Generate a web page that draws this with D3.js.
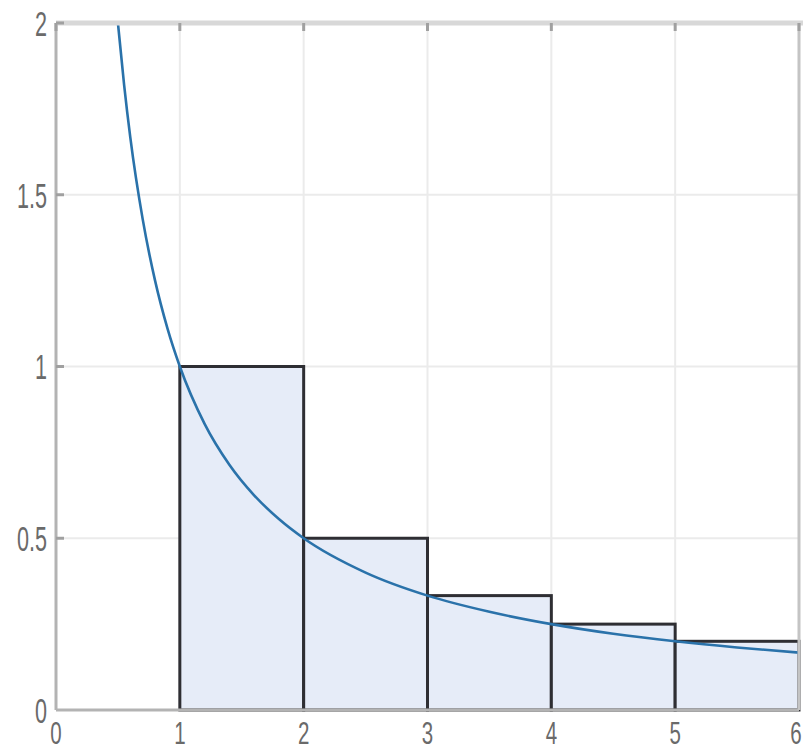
<!DOCTYPE html>
<html><head><meta charset="utf-8">
<script src="https://cdn.jsdelivr.net/npm/d3@7"></script>
<style>body{margin:0;background:#fff}svg text{font-family:"Liberation Sans",Arial,sans-serif}</style>
</head><body><svg id="c" width="803" height="752"></svg>
<script>
const barStarts = [1, 2, 3, 4, 5];
const barHeights = [1, 0.5, 0.333, 0.25, 0.2];
const curveX = [0.5, 0.55, 0.6, 0.7, 0.8, 0.9, 1, 1.2, 1.4, 1.6, 1.8, 2, 2.5, 3, 3.5, 4, 4.5, 5, 5.5, 6];
const curveY = [2, 1.82, 1.667, 1.429, 1.25, 1.111, 1, 0.833, 0.714, 0.625, 0.556, 0.5, 0.4, 0.333, 0.286, 0.25, 0.222, 0.2, 0.182, 0.167];
const xTicks = [0, 1, 2, 3, 4, 5, 6];
const xTickLabels = ["0", "1", "2", "3", "4", "5", "6"];
const yTicks = [0, 0.5, 1, 1.5, 2];
const yTickLabels = ["0", "0.5", "1", "1.5", "2"];

const svg = d3.select("#c");
const L = 56, R = 799, T = 23, B = 710;
const x = d3.scaleLinear().domain([0, 6]).range([L, R]);
const y = d3.scaleLinear().domain([0, 2]).range([B, T]);

// grid
svg.append("g").selectAll("line").data(xTicks.slice(1, -1)).join("line")
  .attr("x1", d => x(d)).attr("x2", d => x(d)).attr("y1", T).attr("y2", B)
  .attr("stroke", "#ebebeb").attr("stroke-width", 2);
svg.append("g").selectAll("line").data(yTicks.slice(1, -1)).join("line")
  .attr("x1", L).attr("x2", R).attr("y1", d => y(d)).attr("y2", d => y(d))
  .attr("stroke", "#ebebeb").attr("stroke-width", 2);

// bars
svg.append("g").selectAll("rect").data(barStarts).join("rect")
  .attr("x", (d) => x(d)).attr("width", d => x(d + 1) - x(d))
  .attr("y", (d, i) => y(barHeights[i])).attr("height", (d, i) => y(0) - y(barHeights[i]))
  .attr("fill", "#e6ecf8").attr("stroke", "#2e2e33").attr("stroke-width", 3);

// curve
const pts = curveX.map((v, i) => [v, curveY[i]]);
svg.append("path").datum(pts)
  .attr("d", d3.line().x(d => x(d[0])).y(d => y(d[1])).curve(d3.curveMonotoneX))
  .attr("fill", "none").attr("stroke", "#2a72aa").attr("stroke-width", 2.6);

// axes box
svg.append("line").attr("x1", L).attr("x2", L).attr("y1", T).attr("y2", B)
  .attr("stroke", "#b3b3b3").attr("stroke-width", 3);
svg.append("line").attr("x1", L).attr("x2", R).attr("y1", B).attr("y2", B)
  .attr("stroke", "#b3b3b3").attr("stroke-width", 3);
svg.append("line").attr("x1", L).attr("x2", 803).attr("y1", T).attr("y2", T)
  .attr("stroke", "#d8d8d8").attr("stroke-width", 5);
svg.append("line").attr("x1", R).attr("x2", R).attr("y1", T).attr("y2", B)
  .attr("stroke", "#c4c4c4").attr("stroke-width", 3);

// tick labels (tall, narrow digits)
const fs = 36, sx = 0.6, fsx = 31;
svg.append("g").selectAll("text").data(xTicks).join("text")
  .attr("transform", (d, i) => {
    const cx = Math.min(x(d), 803 - 7);
    return `translate(${cx},744) scale(${sx * fs / fsx * 0.95},1)`;
  })
  .attr("text-anchor", "middle").attr("fill", "#6a6a6a").style("font-size", fsx + "px")
  .text((d, i) => xTickLabels[i]);
svg.append("g").selectAll("text").data(yTicks).join("text")
  .attr("transform", d => `translate(47,${y(d) + fs * 0.36}) scale(${sx},1)`)
  .attr("text-anchor", "end").attr("fill", "#6a6a6a").style("font-size", fs + "px")
  .text((d, i) => yTickLabels[i]);

// inner tick marks
svg.append("g").selectAll("line").data(xTicks).join("line")
  .attr("x1", d => x(d)).attr("x2", d => x(d)).attr("y1", T).attr("y2", T + 8)
  .attr("stroke", "#a0a0a0").attr("stroke-width", 3);
svg.append("g").selectAll("line").data(yTicks.slice(1)).join("line")
  .attr("x1", L).attr("x2", L + 8).attr("y1", d => y(d)).attr("y2", d => y(d))
  .attr("stroke", "#a0a0a0").attr("stroke-width", 3);
</script></body></html>
